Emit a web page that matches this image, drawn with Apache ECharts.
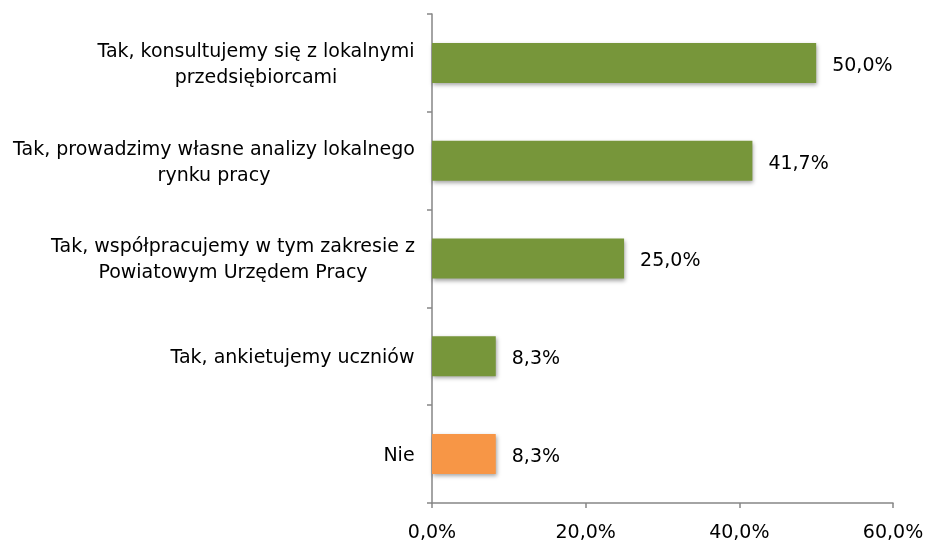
<!DOCTYPE html>
<html>
<head>
<meta charset="utf-8">
<script src="https://cdn.jsdelivr.net/npm/echarts@6/dist/echarts.min.js"></script>
<style>
  html, body { margin: 0; padding: 0; background: #fff; }
  #chart { width: 928px; height: 545px; }
</style>
</head>
<body>
<div id="chart"></div>
<script>
// categories listed bottom to top, as the y axis draws them
const categories = [
    'Nie',
    'Tak, ankietujemy uczniów',
    'Tak, współpracujemy w tym zakresie z\nPowiatowym Urzędem Pracy',
    'Tak, prowadzimy własne analizy lokalnego\nrynku pracy',
    'Tak, konsultujemy się z lokalnymi\nprzedsiębiorcami'
];
const values = [8.3, 8.3, 25.0, 41.7, 50.0];
const barColors = ['#F79646', '#77963A', '#77963A', '#77963A', '#77963A'];
const xTicks = [0, 20, 40, 60];

const fontFamily = '"DejaVu Sans", Verdana, sans-serif';
const labelSize = 19;
const axisGrey = '#868686';

function pct(v) {
    return v.toFixed(1).replace('.', ',') + '%';
}

// measure each label so its lines can be centred on each other
// while the whole block stays right-aligned against the axis
let ctx = document.createElement('canvas').getContext('2d');
ctx.font = labelSize + 'px ' + fontFamily;
let rich = {};
categories.forEach((c, i) => {
    let w = Math.max(...c.split('\n').map((l) => ctx.measureText(l).width));
    rich['c' + i] = {
        width: Math.ceil(w) + 2,
        align: 'center',
        fontSize: labelSize,
        fontFamily: fontFamily,
        color: '#000',
        lineHeight: 26
    };
});

let chart = echarts.init(document.getElementById('chart'), null, { renderer: 'canvas' });

chart.setOption({
    animation: false,
    grid: {
        left: 432,
        right: 35,
        top: 14,
        bottom: 42,
        containLabel: false
    },
    xAxis: {
        type: 'value',
        min: xTicks[0],
        max: xTicks[xTicks.length - 1],
        interval: 20,
        splitLine: { show: false },
        axisLine: { show: true, lineStyle: { color: axisGrey, width: 1.5 } },
        axisTick: { show: true, length: 5, lineStyle: { color: axisGrey, width: 1.5 } },
        axisLabel: {
            color: '#000',
            fontSize: 19,
            fontFamily: fontFamily,
            margin: 21,
            formatter: (v) => pct(v)
        }
    },
    yAxis: {
        type: 'category',
        data: categories,
        axisLine: { show: true, lineStyle: { color: axisGrey, width: 1.5 } },
        axisTick: { show: true, length: 5, lineStyle: { color: axisGrey, width: 1.5 } },
        axisLabel: {
            color: '#000',
            fontSize: labelSize,
            fontFamily: fontFamily,
            margin: 16,
            lineHeight: 26,
            align: 'right',
            padding: [4, 0, 0, 0],
            rich: rich,
            formatter: (v) => {
                let i = categories.indexOf(v);
                return v.split('\n').map((l) => '{c' + i + '|' + l + '}').join('\n');
            }
        }
    },
    series: [{
        type: 'bar',
        barWidth: 40,
        data: values.map((v, i) => ({
            value: v,
            itemStyle: { color: barColors[i] }
        })),
        itemStyle: {
            shadowColor: 'rgba(0,0,0,0.35)',
            shadowBlur: 4,
            shadowOffsetX: 1,
            shadowOffsetY: 2
        },
        label: {
            show: true,
            position: 'right',
            distance: 16,
            offset: [0, 3],
            color: '#000',
            fontSize: 19,
            fontFamily: fontFamily,
            formatter: (p) => pct(p.value)
        }
    }]
});
</script>
</body>
</html>
